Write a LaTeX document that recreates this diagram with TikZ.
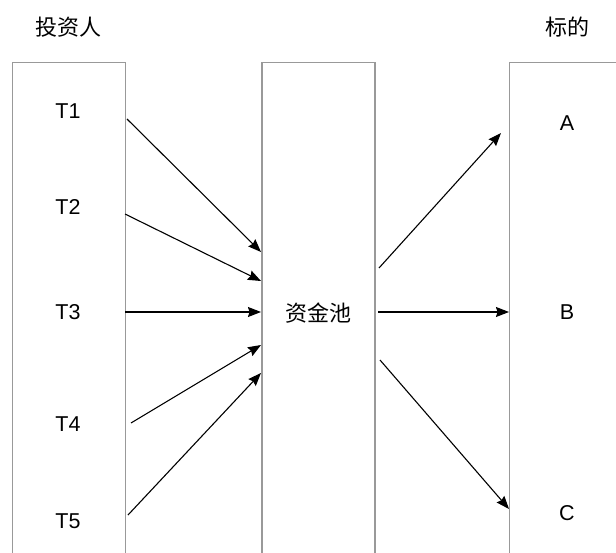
\documentclass[tikz,border=0pt]{standalone}
\usepackage{fontspec}
\setmainfont{Liberation Sans}
\newfontfamily\cjk{Noto Sans CJK SC}
\usetikzlibrary{arrows.meta}
\begin{document}
\begin{tikzpicture}[x=1pt,y=-1pt,
  colbox/.style={draw=black!40, line width=1.4pt, minimum width=113pt, minimum height=560pt, anchor=north, inner sep=0pt},
  lbl/.style={font=\fontsize{21.5}{25}\selectfont, inner sep=0pt},
  clbl/.style={font=\cjk\fontsize{22}{25}\selectfont, inner sep=0pt},
  arr/.style={line width=1.1pt, -{Stealth[length=13pt,width=10pt,inset=1.5pt]}}]
\useasboundingbox (0,0) rectangle (616,553);
\clip (0,0) rectangle (616,553);
% boxes
\node[colbox] (L) at (69,62) {};
\node[colbox] (M) at (318.5,62) {};
\node[colbox] (R) at (566,62) {};
% headings
\node[clbl] (h1) at (68,27) {投资人};
\node[clbl] (h2) at (567,27) {标的};
% labels
\node[lbl] (t1) at (68,111) {T1};
\node[lbl] (t2) at (68,207) {T2};
\node[lbl] (t3) at (68,312) {T3};
\node[lbl] (t4) at (68,424) {T4};
\node[lbl] (t5) at (68,521) {T5};
\node[clbl] (pool) at (318,313) {资金池};
\node[lbl] (a) at (567,123) {A};
\node[lbl] (b) at (567,312) {B};
\node[lbl] (c) at (567,513) {C};
% connector points
\coordinate (s1) at (127,119);
\coordinate (s2) at (125,214);
\coordinate (s3) at (125,312);
\coordinate (s4) at (131,423);
\coordinate (s5) at (128,515);
\coordinate (e1) at (261,252);
\coordinate (e2) at (261,281);
\coordinate (e3) at (261,312);
\coordinate (e4) at (261,345);
\coordinate (e5) at (261,373);
\coordinate (o1) at (379,268);
\coordinate (o2) at (378,312);
\coordinate (o3) at (380,360);
\coordinate (f1) at (501,133);
\coordinate (f2) at (509,312);
\coordinate (f3) at (509,509);
\draw[arr] (s1) -- (e1);
\draw[arr] (s2) -- (e2);
\draw[arr] (s3) -- (e3);
\draw[arr] (s4) -- (e4);
\draw[arr] (s5) -- (e5);
\draw[arr] (o1) -- (f1);
\draw[arr] (o2) -- (f2);
\draw[arr] (o3) -- (f3);
\end{tikzpicture}
\end{document}
